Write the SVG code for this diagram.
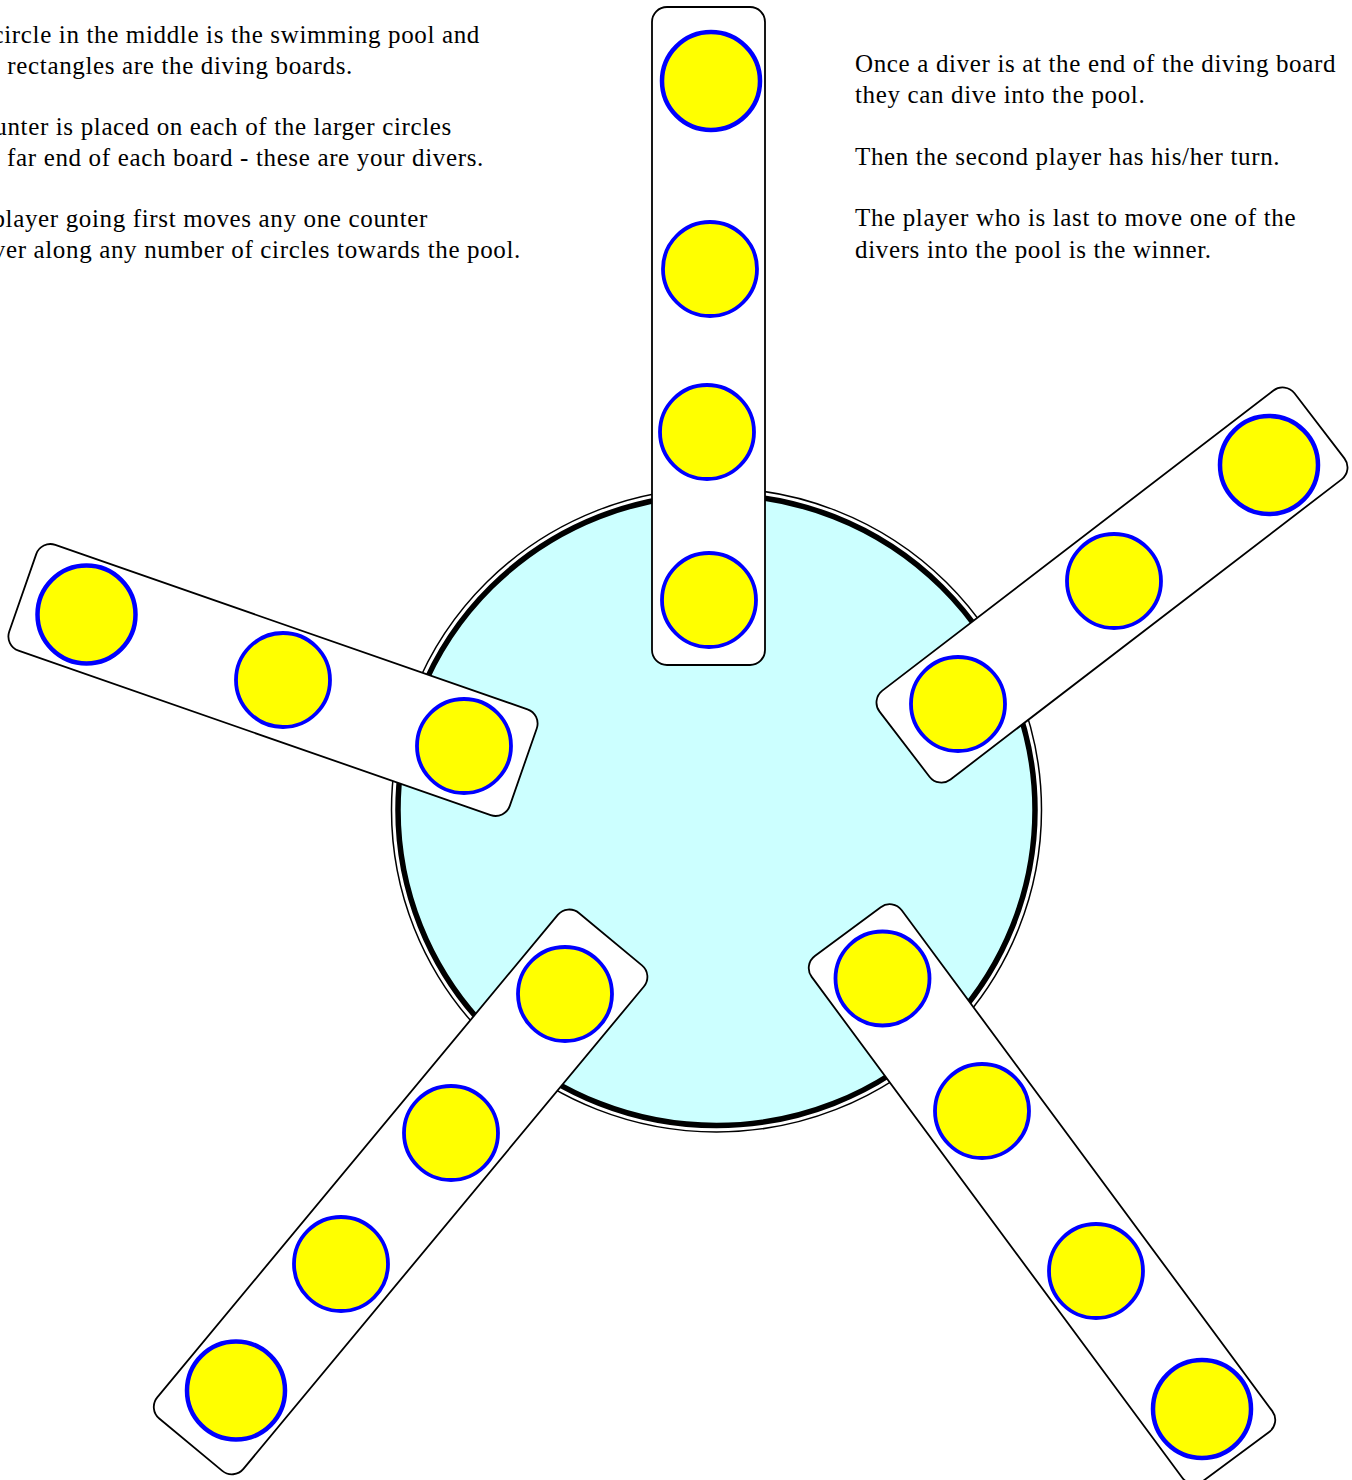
<svg xmlns="http://www.w3.org/2000/svg" width="1352" height="1480" viewBox="0 0 1352 1480">
<style>
.txt{font-family:"Liberation Serif","Times New Roman",serif;font-size:25px;letter-spacing:0.65px;fill:#000}
.board{fill:#fff;stroke:#000;stroke-width:1.8}
.big{fill:#ffff00;stroke:#0000ff;stroke-width:4.5}
.sm{fill:#ffff00;stroke:#0000ff;stroke-width:3.8}
</style>
<rect width="1352" height="1480" fill="#fff"/>
<g id="rules-left" class="txt" text-anchor="end">
<text x="480" y="43">circle in the middle is the swimming pool and</text>
<text x="353" y="74">the rectangles are the diving boards.</text>
<text x="452" y="135">counter is placed on each of the larger circles</text>
<text x="484" y="166">the far end of each board - these are your divers.</text>
<text x="428" y="227">player going first moves any one counter</text>
<text x="521" y="258">diver along any number of circles towards the pool.</text>
</g>
<g id="rules-right" class="txt">
<text x="855" y="72">Once a diver is at the end of the diving board</text>
<text x="855" y="103">they can dive into the pool.</text>
<text x="855" y="165">Then the second player has his/her turn.</text>
<text x="855" y="226">The player who is last to move one of the</text>
<text x="855" y="258">divers into the pool is the winner.</text>
</g>
<g id="pool">
<ellipse cx="716.5" cy="810" rx="325" ry="322" fill="#fff" stroke="#000" stroke-width="1.5"/>
<ellipse cx="716.5" cy="810" rx="318.5" ry="315.5" fill="#ccffff" stroke="#000" stroke-width="5.5"/>
</g>
<g id="board-top">
<rect class="board" x="652" y="7" width="113" height="658" rx="15"/>
<circle class="big" cx="711" cy="81" r="49"/>
<circle class="sm" cx="710" cy="269" r="47"/>
<circle class="sm" cx="707" cy="432" r="47"/>
<circle class="sm" cx="709" cy="600" r="47"/>
</g>
<g id="board-right">
<rect class="board" x="-261.5" y="-56" width="523" height="112" rx="15" transform="translate(1112 585) rotate(-37.5)"/>
<circle class="big" cx="1269" cy="465" r="49"/>
<circle class="sm" cx="1114" cy="581" r="47"/>
<circle class="sm" cx="958" cy="704" r="47"/>
</g>
<g id="board-left">
<rect class="board" x="-265" y="-56" width="530" height="112" rx="15" transform="translate(273 680) rotate(19.2)"/>
<circle class="big" cx="86.5" cy="614.5" r="49"/>
<circle class="sm" cx="283" cy="680" r="47"/>
<circle class="sm" cx="464" cy="746" r="47"/>
</g>
<g id="board-bottom-left">
<rect class="board" x="-328.5" y="-56" width="657" height="112" rx="15" transform="translate(400.6 1191.9) rotate(-50.3)"/>
<circle class="big" cx="236" cy="1390.5" r="49"/>
<circle class="sm" cx="341" cy="1264" r="47"/>
<circle class="sm" cx="451" cy="1133" r="47"/>
<circle class="sm" cx="565" cy="994" r="47"/>
</g>
<g id="board-bottom-right">
<rect class="board" x="-326.5" y="-56" width="653" height="112" rx="15" transform="translate(1042 1194) rotate(53.5)"/>
<circle class="sm" cx="882.5" cy="978.5" r="47"/>
<circle class="sm" cx="982" cy="1111" r="47"/>
<circle class="sm" cx="1096" cy="1271" r="47"/>
<circle class="big" cx="1202" cy="1409" r="49"/>
</g>
<g id="connectors"/>
</svg>
